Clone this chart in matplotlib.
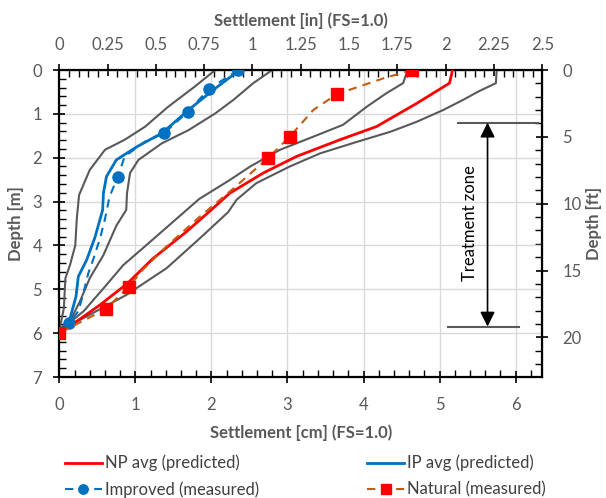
import numpy as np
import matplotlib
matplotlib.use("Agg")
from matplotlib import pyplot as plt
from matplotlib.ticker import MultipleLocator

plt.rcParams['font.family'] = ['Lato', 'DejaVu Sans']

# ---- data (settlement in cm, depth in m) ----
np_avg_d = [0, 0.3, 0.76, 1.29, 1.59, 1.97, 2.35, 2.81, 3.17, 3.69, 4.3, 4.86, 5.35, 5.73, 5.95]
np_avg_s = [5.17, 5.13, 4.70, 4.17, 3.69, 3.12, 2.68, 2.24, 2.01, 1.67, 1.23, 0.90, 0.54, 0.23, 0.0]

np_lo_d = [0, 0.3, 0.53, 0.84, 1.25, 1.52, 1.82, 2.2, 2.51, 2.94, 3.47, 4.0, 4.45, 4.9, 5.5, 5.95]
np_lo_s = [4.58, 4.52, 4.30, 4.04, 3.73, 3.34, 2.90, 2.51, 2.24, 1.84, 1.49, 1.14, 0.84, 0.62, 0.32, 0.0]

np_hi_d = [0, 0.3, 0.49, 0.68, 0.91, 1.18, 1.41, 1.64, 1.9, 2.2, 2.58, 2.96, 3.24, 3.85, 4.52, 4.83, 5.13, 5.58, 5.95]
np_hi_s = [5.75, 5.74, 5.51, 5.31, 5.05, 4.70, 4.35, 3.91, 3.43, 3.03, 2.59, 2.33, 2.22, 1.84, 1.41, 1.14, 0.88, 0.40, 0.0]

ip_avg_d = [0, 0.46, 0.91, 1.44, 1.75, 2.05, 2.43, 2.81, 3.19, 3.81, 4.33, 4.71, 5.16, 5.67, 5.95]
ip_avg_s = [2.37, 2.02, 1.70, 1.35, 1.02, 0.75, 0.62, 0.58, 0.57, 0.47, 0.36, 0.25, 0.22, 0.14, 0.0]

ip_lo_d = [0, 0.38, 0.84, 1.29, 1.59, 1.82, 2.28, 2.85, 3.39, 4.0, 4.45, 4.75, 5.43, 5.95]
ip_lo_s = [2.05, 1.78, 1.43, 1.13, 0.86, 0.60, 0.40, 0.26, 0.23, 0.21, 0.14, 0.08, 0.06, 0.0]

ip_hi_d = [0, 0.30, 0.68, 0.99, 1.37, 1.67, 2.05, 2.35, 2.81, 3.19, 3.55, 4.22, 4.75, 5.28, 5.73, 5.95]
ip_hi_s = [2.80, 2.55, 2.29, 2.05, 1.70, 1.35, 1.04, 0.93, 0.89, 0.88, 0.75, 0.58, 0.40, 0.27, 0.14, 0.0]

imp_d = [0, 0.43, 0.95, 1.44, 1.63, 1.97, 2.43, 2.89, 3.4, 3.81, 4.3, 4.64, 5.2, 5.5, 5.77, 6.0]
imp_s = [2.35, 1.97, 1.69, 1.38, 1.13, 0.86, 0.77, 0.66, 0.60, 0.54, 0.45, 0.38, 0.30, 0.25, 0.13, 0.0]
imp_pts = [0, 1, 2, 3, 6, 14, 15]

nat_d = [0, 0.19, 0.55, 0.91, 1.52, 2.0, 2.7, 3.34, 4.02, 4.55, 4.95, 5.45, 6.0]
nat_s = [4.64, 4.26, 3.65, 3.34, 3.03, 2.75, 2.29, 1.85, 1.41, 1.10, 0.91, 0.61, 0.0]
nat_pts = [0, 2, 4, 5, 10, 11, 12]

gray = '#595959'
red = '#ff0000'
blue = '#0070c0'
orange = '#c55a11'

fig = plt.figure(figsize=(6.06, 4.98), dpi=100)
ax = fig.add_axes([59.3 / 606, 1 - 377 / 498, (542.3 - 59.3) / 606, (377 - 70) / 498])

# bounds
for s, d in [(np_lo_s, np_lo_d), (np_hi_s, np_hi_d), (ip_lo_s, ip_lo_d), (ip_hi_s, ip_hi_d)]:
    ax.plot(s, d, color=gray, lw=1.5, zorder=2)

l_np, = ax.plot(np_avg_s, np_avg_d, color=red, lw=2, zorder=3, label='NP avg (predicted)')
l_ip, = ax.plot(ip_avg_s, ip_avg_d, color=blue, lw=2, zorder=3, label='IP avg (predicted)')
l_imp, = ax.plot(imp_s, imp_d, color=blue, lw=1.5, ls=(0, (4, 3)), marker='o', ms=8,
                 markevery=imp_pts, zorder=4, label='Improved (measured)')
l_nat, = ax.plot(nat_s, nat_d, color=orange, lw=1.5, ls=(0, (4, 3)), marker='s', ms=8,
                 mfc=red, mec=red, markevery=nat_pts, zorder=5, label='Natural (measured)')

ax.set_xlim(0, 6.35)
ax.set_ylim(7, 0)
ax.xaxis.set_major_locator(MultipleLocator(1))
ax.xaxis.set_minor_locator(MultipleLocator(0.2))
ax.yaxis.set_major_locator(MultipleLocator(1))
ax.yaxis.set_minor_locator(MultipleLocator(0.2))
ax.grid(True, which='major', color='#d9d9d9', lw=1, zorder=0)
ax.set_axisbelow(True)

for sp in ax.spines.values():
    sp.set_linewidth(1.6)
    sp.set_color('black')

ax.tick_params(which='major', direction='inout', length=9, width=1.2, colors='black',
               labelcolor=gray, labelsize=12, pad=8)
ax.tick_params(which='minor', direction='in', length=5, width=1.0, colors='black')
ax.tick_params(axis='x', pad=10)

ax.set_xlabel('Settlement [cm] (FS=1.0)', fontsize=12, fontweight='bold', color=gray, labelpad=8)
ax.set_ylabel('Depth [m]', fontsize=12, fontweight='bold', color=gray, labelpad=6)

# secondary axes
top = ax.secondary_xaxis('top', functions=(lambda c: c / 2.54, lambda i: i * 2.54))
top.xaxis.set_major_locator(MultipleLocator(0.25))
top.xaxis.set_minor_locator(MultipleLocator(0.05))
top.xaxis.set_major_formatter(plt.FuncFormatter(lambda v, p: f'{v:g}'))
top.tick_params(which='major', direction='inout', length=9, width=1.2, labelcolor=gray, labelsize=12, pad=8)
top.tick_params(which='minor', direction='in', length=5, width=1.0)
top.set_xlabel('Settlement [in] (FS=1.0)', fontsize=12, fontweight='bold', color=gray, labelpad=8)

right = ax.secondary_yaxis('right', functions=(lambda m: m * 3.28084, lambda f: f / 3.28084))
right.yaxis.set_major_locator(MultipleLocator(5))
right.yaxis.set_minor_locator(MultipleLocator(1))
right.tick_params(which='major', direction='inout', length=9, width=1.2, labelcolor=gray, labelsize=12, pad=10)
right.tick_params(which='minor', direction='in', length=5, width=1.0)
right.set_ylabel('Depth [ft]', fontsize=12, fontweight='bold', color=gray, rotation=90, labelpad=3)

# treatment zone marker
ax.plot([5.24, 6.29], [1.2, 1.2], color=gray, lw=1.5, zorder=2)
ax.plot([5.11, 6.05], [5.85, 5.85], color=gray, lw=1.5, zorder=2)
ax.annotate('', xy=(5.63, 1.2), xytext=(5.63, 5.85),
            arrowprops=dict(arrowstyle='<|-|>', color='black', lw=1.2, mutation_scale=22,
                            shrinkA=0, shrinkB=0))
ax.text(5.40, 3.5, 'Treatment zone', rotation=90, ha='center', va='center', fontsize=12, color='black')

fig.legend(handles=[l_np, l_imp, l_ip, l_nat], ncol=2, loc='lower left',
           bbox_to_anchor=(50 / 606, -0.03), frameon=False, fontsize=12,
           handlelength=2.2, handletextpad=0.2, columnspacing=6.5, labelspacing=0.6,
           markerscale=0.85, labelcolor='#404040')

fig.savefig('out.png', dpi=100)
